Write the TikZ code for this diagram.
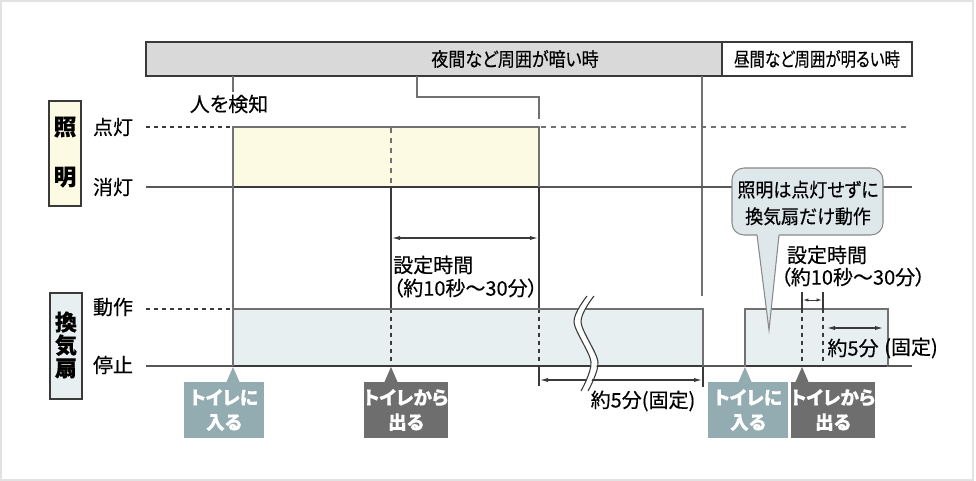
\documentclass[tikz,border=0pt]{standalone}
\usepackage{fontspec}
\setmainfont{Noto Sans CJK JP}[RawFeature=+palt, FakeBold=0.35]
\usetikzlibrary{arrows.meta}
\definecolor{sig}{HTML}{717171}
\definecolor{dk}{HTML}{3A3A3A}
\definecolor{lightY}{HTML}{FDFAE3}
\definecolor{lightB}{HTML}{E7EFF1}
\definecolor{hdr}{HTML}{D9D9D9}
\definecolor{tealbox}{HTML}{93ACB1}
\definecolor{graybox}{HTML}{6E6E6E}
\definecolor{callout}{HTML}{DEE8EB}
\definecolor{cedge}{HTML}{8A8A8A}
\definecolor{framec}{HTML}{E2E2E2}
\tikzset{
  hiline/.style={draw=sig,line width=2.2pt,line join=miter},
  lowline/.style={draw=dk!85,line width=2.2pt},
  thinline/.style={draw=dk,line width=0.8pt},
  dashthin/.style={draw=dk,line width=0.8pt,dash pattern=on 3pt off 3pt},
  dashthick/.style={draw=sig,line width=1.3pt,dash pattern=on 4pt off 3.5pt},
  marker/.style={draw=sig,line width=2.2pt},
  dimarrow/.style={draw=dk,line width=0.8pt,{Latex[length=6pt,width=3.2pt]}-{Latex[length=6pt,width=3.2pt]}},
  lbl/.style={inner sep=0pt},
  evbox/.style={text=white,font=\fontsize{14}{18.5}\selectfont\bfseries,align=center,minimum width=60pt,minimum height=42pt,inner sep=0pt},
}
\begin{document}
\begin{tikzpicture}[x=0.75pt,y=-0.75pt,font=\fontsize{15}{17}\selectfont]
\useasboundingbox (0,0) rectangle (976,481);
\draw[framec,line width=1.2pt] (1,1) rectangle (973,480);

% header
\draw[draw=dk,line width=0.9pt,fill=hdr] (146,42) rectangle (722,76);
\draw[draw=dk,line width=0.9pt,fill=white] (722,42) rectangle (912,76);
\node[lbl,font=\fontsize{14.5}{17}\selectfont\addfontfeature{FakeStretch=0.88}] (night) at (515,59) {夜間など周囲が暗い時};
\node[lbl,font=\fontsize{14.5}{17}\selectfont\addfontfeature{FakeStretch=0.8}] (day) at (817,59) {昼間など周囲が明るい時};
\draw[marker] (233,76) -- (233,92);
\draw[marker] (417,76) -- (417,97) -- (539,97) -- (539,119);
\draw[marker] (702,76) -- (702,296);
\node[lbl] (detect) at (229,104) {人を検知};

% left boxes
\draw[draw=dk,line width=0.9pt,fill=lightY] (49,101) rectangle (81,206);
\node[lbl,font=\fontsize{17}{17}\selectfont\bfseries] (sho) at (65,127) {照};
\node[lbl,font=\fontsize{17}{17}\selectfont\bfseries] (mei) at (65,177) {明};
\draw[draw=dk,line width=0.9pt,fill=lightB] (50,293) rectangle (82,399);
\node[lbl,font=\fontsize{16.5}{17.2}\selectfont\bfseries,align=center] (fan) at (66,345) {換\\気\\扇};
\node[lbl] (on) at (113,127) {点灯};
\node[lbl] (off) at (113,187) {消灯};
\node[lbl] (run) at (113,307) {動作};
\node[lbl] (stop) at (113,365) {停止};

% lighting signal
\fill[lightY] (233,127) rectangle (539,187);
\draw[dashthin] (146,127) -- (233,127);
\draw[dashthick] (541,127) -- (907,127);
\draw[lowline] (146,187) -- (233,187);
\draw[lowline] (539,187) -- (912,187);
\draw[thinline] (233,187) -- (539,187);
\draw[dashthick] (391,128) -- (391,187);
\draw[hiline] (233,187) -- (233,127) -- (539,127) -- (539,187);

% thin verticals
\draw[draw=sig,line width=0.8pt] (233,187) -- (233,309);
\draw[thinline] (391,187) -- (391,309);
\draw[thinline] (539,187) -- (539,309);

% setting time arrow (left)
\draw[dimarrow] (392,238) -- (538,238);
\node[lbl,anchor=west] (set1) at (393,265) {設定時間};
\node[lbl,anchor=west] (set1b) at (393,288) {（約10秒～30分）};

% fan signal
\fill[lightB] (233,309) rectangle (703,366);
\fill[lightB] (745,309) rectangle (888,366);
\draw[dashthin] (146,309) -- (233,309);
\draw[dashthin] (391,309) -- (391,366);
\draw[dashthin] (539,309) -- (539,366);
\draw[thinline] (539,366) -- (539,386);
\draw[thinline] (703,366) -- (703,387);
\draw[lowline] (146,366) -- (233,366);
\draw[thinline] (233,366) -- (703,366);
\draw[thinline] (745,366) -- (888,366);
\draw[hiline] (233,366) -- (233,309) -- (703,309) -- (703,367);
\draw[lowline] (703,366) -- (745,366);
\draw[hiline] (745,367) -- (745,309) -- (888,309) -- (888,367);
\draw[lowline] (888,366) -- (912,366);

% 5 min arrow (left)
\draw[dimarrow] (540,380) -- (702,380);
\node[lbl] (five1) at (643,401) {約5分(固定)};

% break mark
\fill[white] plot[smooth] coordinates {(587,296) (574,322) (591,362) (581,391)}
  -- (588,391) -- plot[smooth] coordinates {(598,362) (581,322) (594,296)} -- cycle;
\draw[thinline] plot[smooth] coordinates {(587,296) (574,322) (591,362) (581,391)};
\draw[thinline] plot[smooth] coordinates {(594,296) (581,322) (598,362) (588,391)};

% right section
\draw[dashthin] (802,309) -- (802,367);
\draw[dashthin] (823,309) -- (823,367);
\draw[thinline] (802,292) -- (802,309);
\draw[thinline] (823,292) -- (823,309);
\draw[draw=dk,line width=0.7pt,{Latex[length=4pt,width=2.5pt]}-{Latex[length=4pt,width=2.5pt]}] (803,300) -- (822,300);
\draw[dimarrow] (827,328) -- (883,328);
\node[lbl] (five2) at (853,348) {約5分};
\node[lbl] (fixed2) at (911,348) {(固定)};
\node[lbl] (set2) at (827,255) {設定時間};
\node[lbl] (set2b) at (853,277) {（約10秒～30分）};

% callout
\draw[fill=callout,draw=cedge,line width=0.8pt,rounded corners=9] (732,168) rectangle (883,235);
\fill[callout] (757,232) -- (757,235) -- (769,330) -- (779,235) -- (779,232) -- cycle;
\draw[draw=cedge,line width=0.8pt] (757,235) -- (769,330) -- (779,235);
\node[lbl,align=center,font=\fontsize{14.5}{20}\selectfont\addfontfeature{FakeStretch=0.93}] (note) at (808,203) {照明は点灯せずに\\換気扇だけ動作};

% event boxes
\fill[tealbox] (226,383) -- (233,367) -- (240,383) -- cycle;
\node[evbox,fill=tealbox] (enter1) at (224,410) {トイレに\\入る};
\fill[graybox] (384,383) -- (391,367) -- (398,383) -- cycle;
\node[evbox,fill=graybox] (exit1) at (406,410) {トイレから\\出る};
\fill[tealbox] (738,383) -- (745,367) -- (752,383) -- cycle;
\node[evbox,fill=tealbox] (enter2) at (748,410) {トイレに\\入る};
\fill[graybox] (795,383) -- (802,367) -- (809,383) -- cycle;
\node[evbox,fill=graybox] (exit2) at (833,410) {トイレから\\出る};
\end{tikzpicture}
\end{document}
